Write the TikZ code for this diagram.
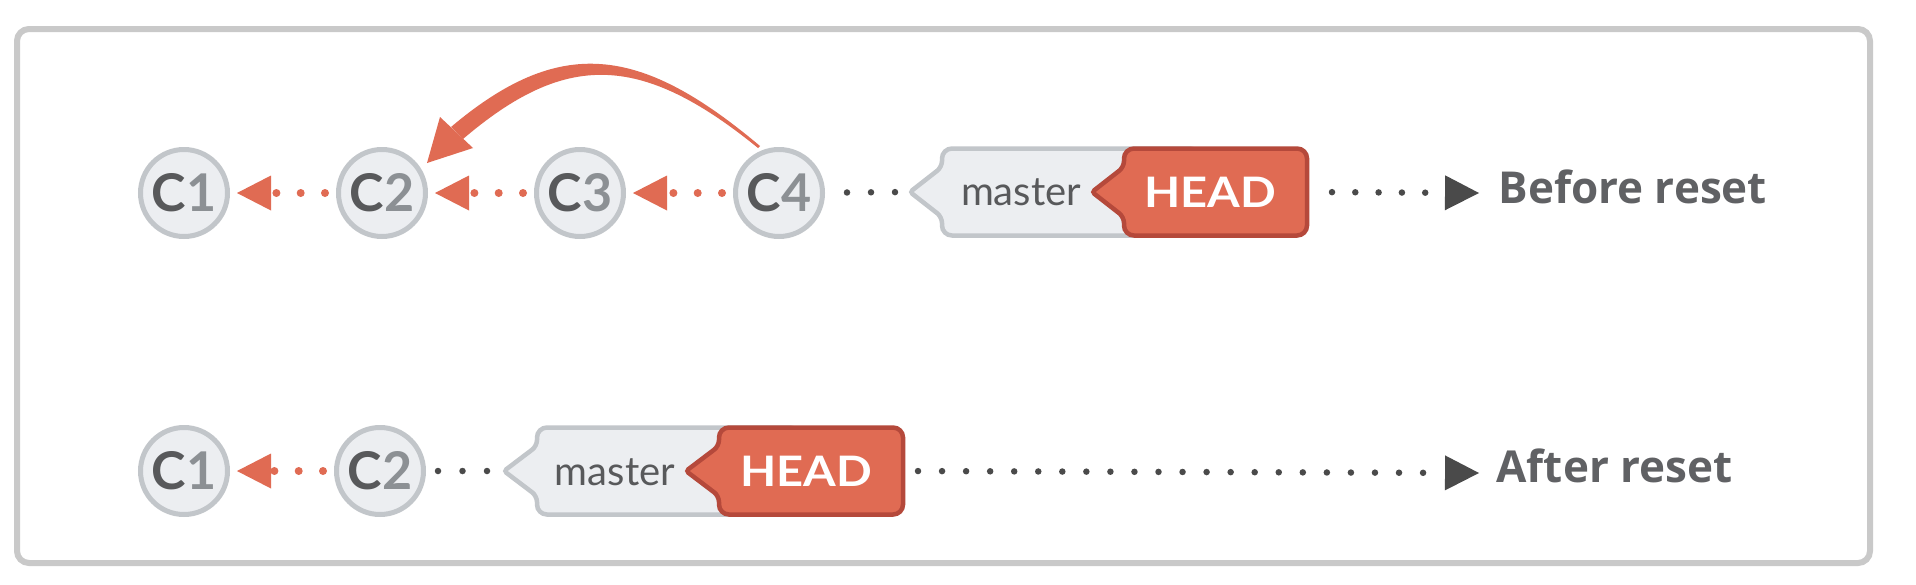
\documentclass[tikz,border=0pt]{standalone}
\usepackage{fontspec}
\usetikzlibrary{arrows.meta,calc}
\newfontfamily\latof{Lato}
\newfontfamily\opensansf{Open Sans}
\definecolor{frameg}{HTML}{C9C9C9}
\definecolor{cfill}{HTML}{ECEEF1}
\definecolor{cline}{HTML}{C2C6CA}
\definecolor{cdark}{HTML}{58595B}
\definecolor{cnum}{HTML}{8C9094}
\definecolor{gitred}{HTML}{E06B53}
\definecolor{headline}{HTML}{B5493B}
\definecolor{dotgray}{HTML}{4A4A4A}
\definecolor{labelg}{HTML}{606164}
\newcommand\tagshape[6]{% tip, left, right, cy, fill, draw
  \draw[line width=4.5pt, fill=#5, draw=#6, rounded corners=10pt]
    (#3,#4-43.5) -- (#2,#4-43.5) [rounded corners=6pt] -- (#2,#4-25)
    [rounded corners=3pt] -- (#1,#4) [rounded corners=6pt] -- (#2,#4+25)
    [rounded corners=10pt] -- (#2,#4+43.5) -- (#3,#4+43.5) -- cycle;}
\begin{document}
\begin{tikzpicture}[x=1pt,y=-1pt,
  commit/.style={circle, draw=cline, fill=cfill, line width=5pt, minimum size=87pt,
    inner sep=0pt, text=cdark, font=\latof\bfseries\fontsize{52}{54}\selectfont},
  reddots/.style={draw=gitred, line width=8pt, line cap=round,
    dash pattern=on 0pt off 24.3pt, shorten <=11pt, shorten >=7pt,
    -{Triangle[length=34pt,width=35pt,line width=0pt]}},
  graydots/.style={draw=dotgray, line width=6.5pt, line cap=round},
  mastertext/.style={anchor=base, text=cdark, font=\latof\fontsize{40}{42}\selectfont},
  headtext/.style={anchor=base, text=white, font=\latof\bfseries\fontsize{42}{44}\selectfont},
  labeltext/.style={anchor=base west, text=labelg, font=\opensansf\bfseries\fontsize{44}{46}\selectfont},
  endarrow/.style={-{Triangle[length=34pt,width=35pt,line width=0pt]}}
]
\useasboundingbox (0,0) rectangle (1916,584);
\fill[white] (0,0) rectangle (1916,584);
\draw[frameg, line width=6pt, rounded corners=12pt] (17,29) rectangle (1870,563);

% ---------- Before reset ----------
\node[commit] (a1) at (184,193) {C\textcolor{cnum}{1}};
\node[commit] (a2) at (382,193) {C\textcolor{cnum}{2}};
\node[commit] (a3) at (580,193) {C\textcolor{cnum}{3}};
\node[commit] (a4) at (779,193) {C\textcolor{cnum}{4}};
\draw[reddots] (a2) -- (a1);
\draw[reddots] (a3) -- (a2);
\draw[reddots] (a4) -- (a3);

% curved reset arrow from C4 to C2 (tapered band + head)
\fill[gitred] (760,146) .. controls (640,45) and (560,35) .. (451,127)
  -- (463,139) .. controls (565,52) and (640,52) .. (758,148) -- cycle;
\fill[gitred] ($(a2)+(45,-30)$) -- ($(a2)+(58,-76)$) -- ($(a2)+(91,-45)$) -- cycle;

\tagshape{910}{942}{1200}{192}{cfill}{cline}
\tagshape{1092}{1124}{1307}{192}{gitred}{headline}
\node[mastertext] (m1) at (1021,205) {master};
\node[headtext] (h1) at (1210,207.5) {\scalebox{1.12}[1]{HEAD}};
\coordinate (m1tip) at (910,192);
\coordinate (h1r) at (1309,192);
\coordinate (b1) at (1479,193);
\draw[graydots, dash pattern=on 0pt off 24pt, shorten <=22pt] (a4) -- (m1tip);
\draw[graydots, dash pattern=on 0pt off 23.3pt, shorten <=23pt, endarrow] (h1r) -- (b1);
\node[labeltext] (lb1) at (1495,203) {Before reset};

% ---------- After reset ----------
\node[commit] (b1c) at (184,471) {C\textcolor{cnum}{1}};
\node[commit] (b2c) at (380,471) {C\textcolor{cnum}{2}};
\draw[reddots] (b2c) -- (b1c);

\tagshape{504}{537}{800}{471}{cfill}{cline}
\tagshape{686}{719}{903}{471}{gitred}{headline}
\node[mastertext] (m2) at (615,485) {master};
\node[headtext] (h2) at (806,486.5) {\scalebox{1.12}[1]{HEAD}};
\coordinate (m2tip) at (504,471);
\coordinate (h2r) at (905,471);
\coordinate (b2) at (1479,473);
\draw[graydots, dash pattern=on 0pt off 24.5pt, shorten <=12pt] (b2c) -- (m2tip);
\draw[graydots, dash pattern=on 0pt off 24.05pt, shorten <=13pt, endarrow] (h2r) -- (b2);
\node[labeltext] (lb2) at (1493,482) {After reset};
\end{tikzpicture}
\end{document}
